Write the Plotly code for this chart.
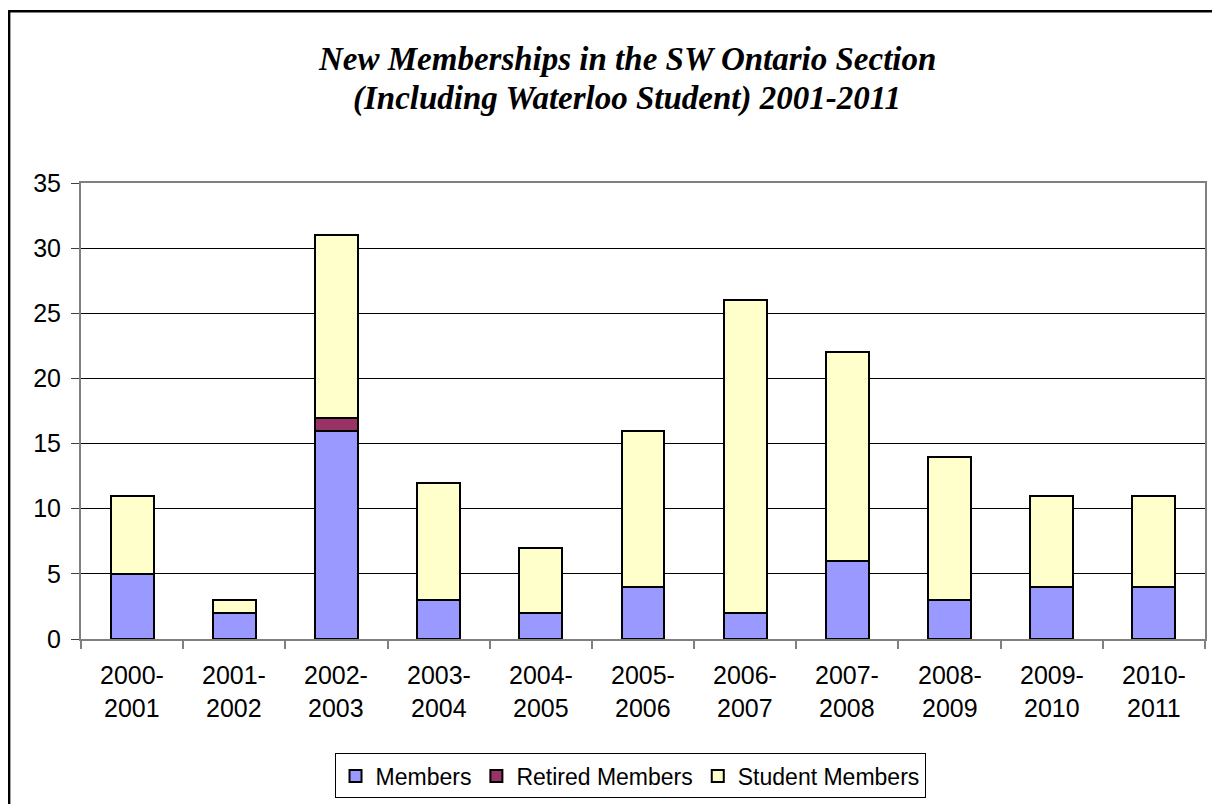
import plotly.graph_objects as go

categories = ["2000-2001", "2001-2002", "2002-2003", "2003-2004", "2004-2005",
              "2005-2006", "2006-2007", "2007-2008", "2008-2009", "2009-2010", "2010-2011"]
members = [5, 2, 16, 3, 2, 4, 2, 6, 3, 4, 4]
retired_members = [0, 0, 1, 0, 0, 0, 0, 0, 0, 0, 0]
student_members = [6, 1, 14, 9, 5, 12, 24, 16, 11, 7, 7]
series_names = ["Members", "Retired Members", "Student Members"]
series_colors = ["#9999FF", "#993366", "#FFFFCC"]
title_lines = ["New Memberships in the SW Ontario Section",
               "(Including Waterloo Student) 2001-2011"]

# figure sits 8px in from the page corner; keep page within the 1220x812 window
W, H = 1204, 796
L, R, T, B = 73, 5, 175, 159
pw, ph = W - L - R, H - T - B


def px_x(p):
    return (p - L) / pw


def px_y(p):
    return (H - B - p) / ph


fig = go.Figure()
for name, vals, col in zip(series_names, [members, retired_members, student_members], series_colors):
    fig.add_trace(go.Bar(
        x=categories, y=vals, name=name,
        marker=dict(color=col, line=dict(color="black", width=2)),
    ))

annotations = []
for i, t in enumerate(title_lines):
    annotations.append(dict(
        text="<b><i>" + t + "</i></b>", xref="paper", yref="paper",
        x=px_x(620), y=px_y(49 + 40 * i), xanchor="center", yanchor="middle",
        showarrow=False, font=dict(family="Liberation Serif", size=33, color="black"),
    ))
for c in categories:
    top, bot = c.split("-")
    annotations.append(dict(text=top + "-", xref="x", yref="paper", x=c, y=px_y(673),
                            xanchor="center", yanchor="middle", showarrow=False,
                            font=dict(family="Liberation Sans", size=25, color="black")))
    annotations.append(dict(text=bot, xref="x", yref="paper", x=c, y=px_y(707),
                            xanchor="center", yanchor="middle", showarrow=False,
                            font=dict(family="Liberation Sans", size=25, color="black")))

fig.update_layout(
    width=W, height=H,
    margin=dict(l=L, r=R, t=T, b=B, pad=0),
    barmode="stack", bargap=0.58,
    paper_bgcolor="white", plot_bgcolor="white",
    font=dict(family="Liberation Sans", size=23, color="black"),
    showlegend=True,
    legend=dict(orientation="h", x=px_x(623), xanchor="center", y=px_y(753), yanchor="top",
                bordercolor="black", borderwidth=1, font=dict(size=23),
                traceorder="normal", itemsizing="constant", itemwidth=30),
    annotations=annotations,
    shapes=[
        dict(type="line", xref="paper", yref="paper",
             x0=px_x(1), x1=px_x(1), y0=px_y(H + 40), y1=px_y(0),
             line=dict(color="black", width=2.5), layer="above"),
        dict(type="line", xref="paper", yref="paper",
             x0=px_x(0), x1=px_x(W + 40), y0=px_y(1), y1=px_y(1),
             line=dict(color="black", width=2.5), layer="above"),
    ],
)
fig.update_xaxes(showticklabels=False, showgrid=False, showline=True, linecolor="#808080",
                 linewidth=2, mirror=True, ticks="outside", tickson="boundaries",
                 ticklen=8, tickcolor="#808080", tickwidth=1.5)
fig.update_yaxes(range=[0, 35], dtick=5, showgrid=True, gridcolor="black", gridwidth=1,
                 zeroline=False, showline=True, linecolor="#808080", linewidth=2, mirror=True,
                 ticks="outside", ticklen=8, tickcolor="#404040", tickwidth=1,
                 ticklabelstandoff=5,
                 tickfont=dict(family="Liberation Sans", size=25, color="black"))

fig.write_html("out.html")
